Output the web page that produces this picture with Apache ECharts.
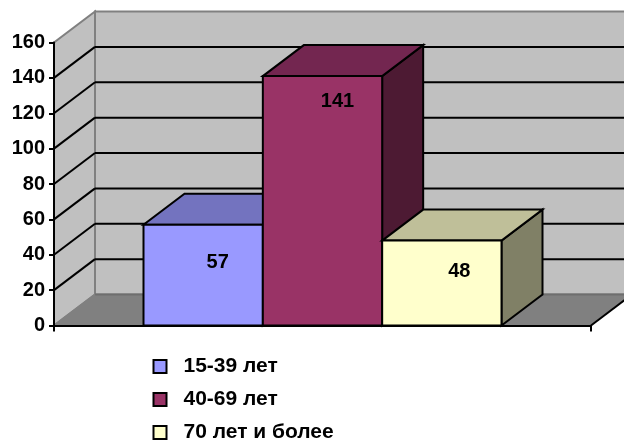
<!DOCTYPE html>
<html>
<head>
<meta charset="utf-8">
<style>html,body{margin:0;padding:0;background:#fff}#chart{width:624px;height:440px}</style>
<script src="https://cdn.jsdelivr.net/npm/echarts@6/dist/echarts.min.js"></script>
</head>
<body>
<div id="chart"></div>
<script>
// Age groups and their counts
const ageGroups = ['15-39 лет', '40-69 лет', '70 лет и более'];
const counts = [57, 141, 48];
const groupColors = ['#9999FF', '#993366', '#FFFFCC'];
const topColors = ['#7373BF', '#732650', '#BFBF99'];
const sideColors = ['#4D4D80', '#4D1A33', '#808066'];
const yTicks = [0, 20, 40, 60, 80, 100, 120, 140, 160];

// Oblique projection: how far the back of the box sits from its front
const DEPTH_X = 41;
const DEPTH_Y = -31;
// Share of the category band taken by one column
const COLUMN_SHARE = 1 / 4.5;
// Where each value label sits relative to the top centre of its column
const labelShift = [[14.5, 38], [15, 25.5], [17.5, 31]];

const FONT = '"Liberation Sans", Arial, sans-serif';
const poly = (points, fill, stroke, width) => ({
  type: 'polygon',
  shape: { points },
  style: { fill, stroke, lineWidth: width, lineJoin: 'miter' }
});
const seg = (a, b, stroke, width) => ({
  type: 'line',
  shape: { x1: a[0], y1: a[1], x2: b[0], y2: b[1] },
  style: { stroke, lineWidth: width },
  silent: true
});
const back = p => [p[0] + DEPTH_X, p[1] + DEPTH_Y];

// Floor, side wall, back wall and the gridlines folded across both walls
function renderWalls(params, api) {
  const bandWidth = api.size([1, 0])[0];
  const centre = api.coord([0, 0])[0];
  const left = centre - bandWidth / 2;
  const right = centre + bandWidth / 2;
  const yZero = api.coord([0, 0])[1];
  const yMax = api.coord([0, yTicks[yTicks.length - 1]])[1];
  const children = [
    poly([back([left, yZero]), back([right, yZero]), back([right, yMax]), back([left, yMax])], '#C0C0C0', '#808080', 2),
    poly([[left, yZero], back([left, yZero]), back([left, yMax]), [left, yMax]], '#C0C0C0', '#808080', 2),
    poly([[left, yZero], [right, yZero], back([right, yZero]), back([left, yZero])], '#808080', '#808080', 1)
  ];
  yTicks.slice(1, -1).forEach(t => {
    const y = api.coord([0, t])[1];
    children.push(seg([left, y], back([left, y]), '#000', 2));
    children.push(seg(back([left, y]), back([right, y]), '#000', 2));
  });
  children.push(seg(back([left, yZero]), back([right, yZero]), '#6E6E6E', 2));
  children.push(seg([right, yZero], back([right, yZero]), '#000', 2));
  children.push(seg([left, yZero], back([left, yZero]), '#808080', 2));
  return { type: 'group', children };
}

// One box: front face, top, right side, and its value as text
function renderBox(index) {
  return function (params, api) {
    const value = api.value(1);
    const bandWidth = api.size([1, 0])[0];
    const w = bandWidth * COLUMN_SHARE;
    const centre = api.coord([0, 0])[0] + (index - 1) * w;
    const yTop = api.coord([0, value])[1];
    const yBottom = api.coord([0, 0])[1];
    const x0 = centre - w / 2;
    const x1 = centre + w / 2;
    const a = [x0, yTop], b = [x1, yTop], c = [x1, yBottom], d = [x0, yBottom];
    const border = { stroke: '#000', width: 2 };
    return {
      type: 'group',
      children: [
        poly([b, c, back(c), back(b)], sideColors[index], border.stroke, border.width),
        poly([a, b, back(b), back(a)], topColors[index], border.stroke, border.width),
        poly([a, b, c, d], groupColors[index], border.stroke, border.width),
        {
          type: 'text',
          x: centre + labelShift[index][0],
          y: yTop + labelShift[index][1],
          style: {
            text: String(value),
            fill: '#000',
            font: 'bold 20px ' + FONT,
            align: 'center',
            verticalAlign: 'middle'
          }
        }
      ]
    };
  };
}

const chart = echarts.init(document.getElementById('chart'), null, { renderer: 'canvas' });
chart.setOption({
  animation: false,
  backgroundColor: '#fff',
  grid: { left: 54, right: 33, top: 42.5, bottom: 114.5, containLabel: false },
  legend: {
    orient: 'vertical',
    left: 152.5,
    top: 356,
    height: 100,
    padding: 0,
    itemWidth: 13,
    itemHeight: 13,
    itemGap: 12,
    icon: 'rect',
    selectedMode: false,
    textStyle: { color: '#000', fontFamily: FONT, fontWeight: 'bold', fontSize: 21, padding: [0, 0, 0, 12] },
    data: ageGroups
  },
  xAxis: {
    type: 'category',
    data: ['Возраст'],
    z: 10,
    axisLine: { show: true, lineStyle: { color: '#000', width: 2 } },
    axisTick: { show: true, length: 6, lineStyle: { color: '#000', width: 2 } },
    axisLabel: { show: false },
    splitLine: { show: false }
  },
  yAxis: {
    type: 'value',
    min: 0,
    max: 160,
    interval: 20,
    z: 10,
    axisLine: { show: true, lineStyle: { color: '#000', width: 2 } },
    axisTick: { show: true, length: 5, lineStyle: { color: '#000', width: 2 } },
    axisLabel: { color: '#000', fontFamily: FONT, fontWeight: 'bold', fontSize: 20, margin: 9, padding: [4, 0, 0, 0] },
    splitLine: { show: false }
  },
  series: [
    {
      type: 'custom',
      name: 'walls',
      silent: true,
      clip: false,
      z: 1,
      renderItem: renderWalls,
      data: [[0, 0]]
    }
  ].concat(ageGroups.map((name, i) => ({
    type: 'custom',
    name,
    clip: false,
    z: 2 + i,
    renderItem: renderBox(i),
    encode: { x: 0, y: 1 },
    itemStyle: { color: groupColors[i], borderColor: '#000', borderWidth: 2 },
    data: [[0, counts[i]]]
  })))
});
</script>
</body>
</html>
